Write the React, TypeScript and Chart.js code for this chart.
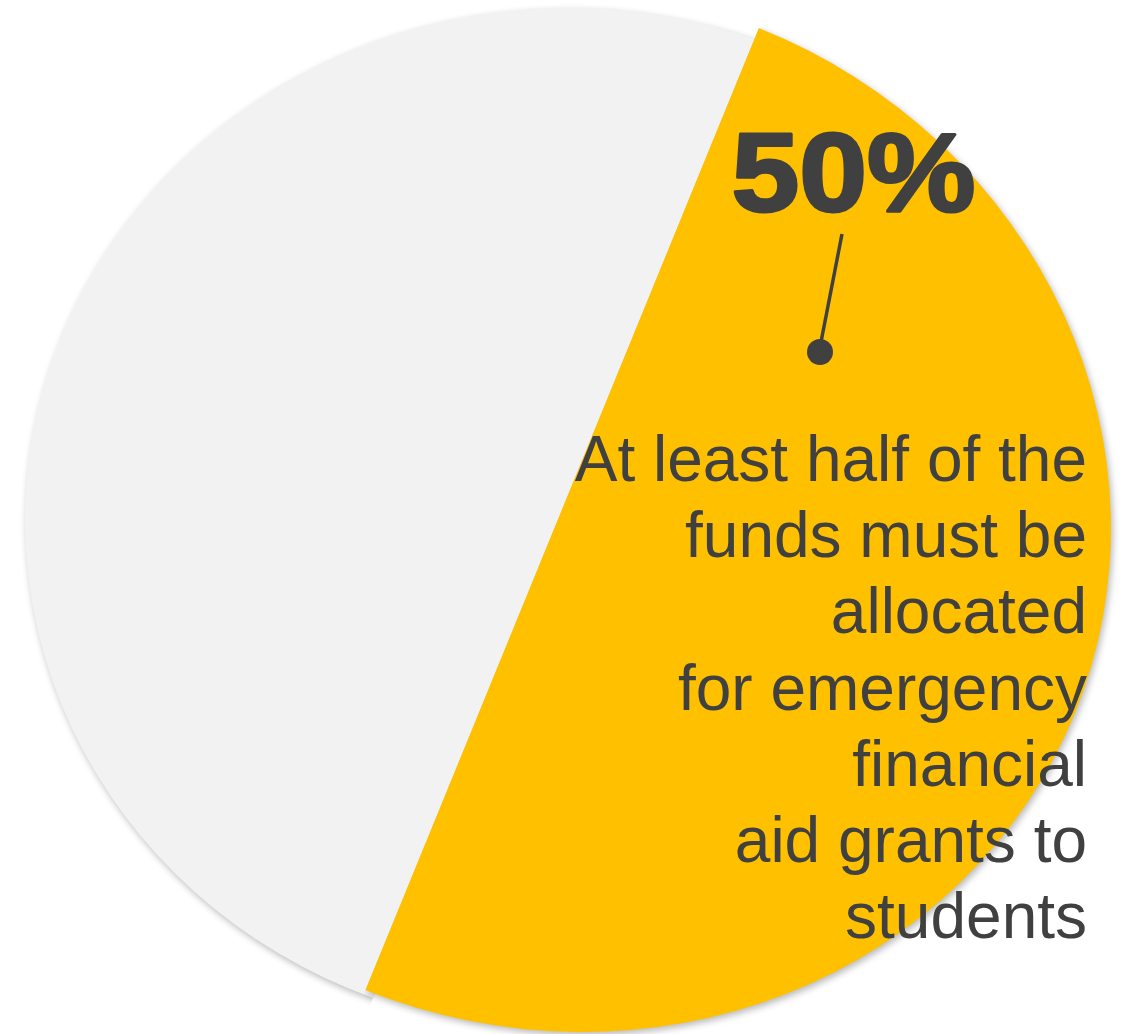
import React, { useEffect, useRef } from "react";
import { Chart, registerables } from "chart.js";

Chart.register(...registerables);

const categories = ["Other uses", "Emergency financial aid grants to students"];
const values = [50, 50];
const sliceColors = ["#F2F2F2", "#FFC000"];
const calloutValue = "50%";
const calloutLines = [
  "At least half of the",
  "funds must be",
  "allocated",
  "for emergency",
  "financial",
  "aid grants to",
  "students",
];

const TEXT_COLOR = "#404040";

// Perspective-like look: each slice is drawn by Chart.js, then mapped onto its own ellipse.
// unit circle (u,v) -> (cx + A u + B v, cy + C u + D v)
const sliceGeometry = [
  { cx: 567.5, cy: 520, A: 542.5, B: 0, C: 0, D: 512 },
  { cx: 562, cy: 509, A: 549, B: 0, C: 19, D: 522.6 },
];

const overlayPlugin = {
  id: "overlay",
  beforeDatasetsDraw(chart: any) {
    const meta = chart.getDatasetMeta(0);
    meta.data.forEach((el: any, i: number) => {
      if (el.__patched) return;
      el.__patched = true;
      const orig = el.draw.bind(el);
      el.draw = (ctx: CanvasRenderingContext2D, area: any) => {
        const g = sliceGeometry[i] || sliceGeometry[0];
        const x = el.x;
        const y = el.y;
        const r = el.outerRadius || 1;
        const map = (a: number) => {
          const u = Math.cos(a);
          const v = Math.sin(a);
          return [g.A * u + g.B * v, g.C * u + g.D * v];
        };
        // half-plane clip on the slice's own side so the shadow does not spill across the split
        const d = map(el.startAngle);
        const mid = map((el.startAngle + el.endAngle) / 2);
        let n = [-d[1], d[0]];
        if (n[0] * mid[0] + n[1] * mid[1] < 0) n = [-n[0], -n[1]];
        const K = 3;
        ctx.save();
        ctx.beginPath();
        ctx.moveTo(g.cx + K * d[0], g.cy + K * d[1]);
        ctx.lineTo(g.cx + K * d[0] + K * n[0], g.cy + K * d[1] + K * n[1]);
        ctx.lineTo(g.cx - K * d[0] + K * n[0], g.cy - K * d[1] + K * n[1]);
        ctx.lineTo(g.cx - K * d[0], g.cy - K * d[1]);
        ctx.closePath();
        ctx.clip();
        ctx.transform(
          g.A / r,
          g.C / r,
          g.B / r,
          g.D / r,
          g.cx - (g.A * x + g.B * y) / r,
          g.cy - (g.C * x + g.D * y) / r
        );
        ctx.shadowColor = "rgba(0,0,0,0.28)";
        ctx.shadowBlur = 7;
        ctx.shadowOffsetX = 2;
        ctx.shadowOffsetY = 3;
        orig(ctx, area);
        ctx.restore();
      };
    });
  },
  afterDraw(chart: any) {
    const ctx = chart.ctx;
    ctx.save();
    ctx.fillStyle = TEXT_COLOR;
    ctx.strokeStyle = TEXT_COLOR;

    // big value
    ctx.font = "bold 112px 'Liberation Sans', Arial, sans-serif";
    ctx.textAlign = "center";
    ctx.textBaseline = "alphabetic";
    const m = ctx.measureText(calloutValue);
    const ink = m.actualBoundingBoxLeft + m.actualBoundingBoxRight;
    const s = 238 / ink;
    ctx.save();
    ctx.translate(853.5, 211);
    ctx.scale(s, 1);
    ctx.lineWidth = 3;
    ctx.lineJoin = "round";
    ctx.fillText(calloutValue, 0, 0);
    ctx.strokeText(calloutValue, 0, 0);
    ctx.restore();

    // leader line with dot
    ctx.lineWidth = 3.5;
    ctx.lineCap = "butt";
    ctx.beginPath();
    ctx.moveTo(842, 234);
    ctx.lineTo(821, 342);
    ctx.stroke();
    ctx.beginPath();
    ctx.arc(820, 352, 13, 0, Math.PI * 2);
    ctx.fill();

    // description
    ctx.font = "64px 'Liberation Sans', Arial, sans-serif";
    ctx.textAlign = "right";
    calloutLines.forEach((line, i) => {
      ctx.fillText(line, 1087, 481 + i * 76.2);
    });
    ctx.restore();
  },
};

export default function App() {
  const canvasRef = useRef<HTMLCanvasElement | null>(null);

  useEffect(() => {
    if (!canvasRef.current) return;
    const chart = new Chart(canvasRef.current, {
      type: "pie",
      data: {
        labels: categories,
        datasets: [
          {
            data: values,
            backgroundColor: sliceColors,
            borderWidth: 0,
            hoverOffset: 0,
          },
        ],
      },
      options: {
        animation: false,
        responsive: true,
        maintainAspectRatio: false,
        rotation: 201,
        layout: { padding: { top: 8, bottom: 2, left: 55, right: 45 } },
        plugins: {
          legend: { display: false },
          tooltip: { enabled: false },
        },
        events: [],
      },
      plugins: [overlayPlugin],
    });
    return () => chart.destroy();
  }, []);

  return (
    <div
      style={{
        position: "absolute",
        left: 0,
        top: 0,
        width: 1125,
        height: 1034,
        background: "#ffffff",
      }}
    >
      <canvas ref={canvasRef} />
    </div>
  );
}
